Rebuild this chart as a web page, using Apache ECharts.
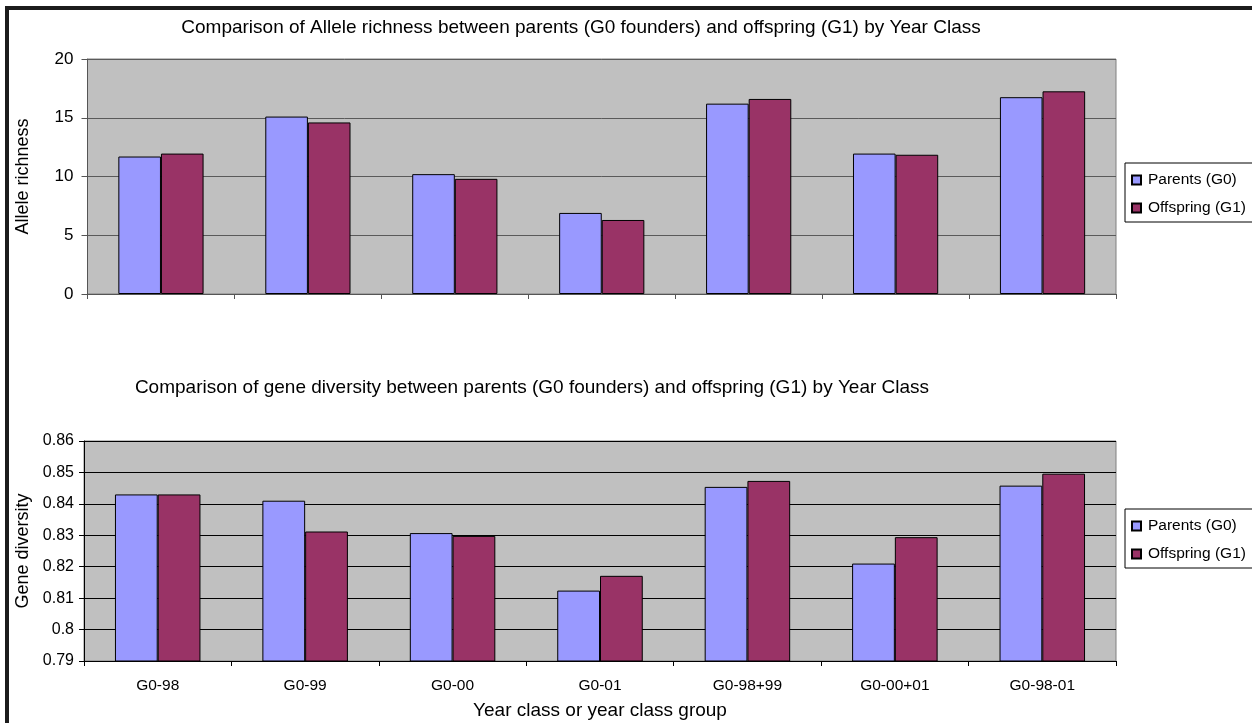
<!DOCTYPE html>
<html>
<head>
<meta charset="utf-8">
<script src="https://cdn.jsdelivr.net/npm/echarts@6/dist/echarts.min.js"></script>
<style>
  html, body { margin: 0; padding: 0; background: #fff; }
  #wrap { position: relative; width: 1252px; height: 723px; overflow: hidden; }
  #chart { position: absolute; left: 0; top: 0; width: 1252px; height: 723px; }
  #frame { position: absolute; left: 5px; top: 6px; right: -10px; bottom: -10px;
           border-left: 4px solid #1c1c1c; border-top: 4px solid #1c1c1c; pointer-events: none; }
</style>
</head>
<body>
<div id="wrap">
  <div id="chart"></div>
  <div id="frame"></div>
</div>
<script>
const categories = ['G0-98', 'G0-99', 'G0-00', 'G0-01', 'G0-98+99', 'G0-00+01', 'G0-98-01'];
const seriesNames = ['Parents (G0)', 'Offspring (G1)'];
const alleleParents = [11.7, 15.1, 10.2, 6.9, 16.2, 11.95, 16.75];
const alleleOffspring = [11.95, 14.6, 9.8, 6.3, 16.6, 11.85, 17.25];
const geneParents = [0.843, 0.841, 0.8307, 0.8124, 0.8454, 0.821, 0.8458];
const geneOffspring = [0.843, 0.8312, 0.8298, 0.8171, 0.8473, 0.8294, 0.8496];
const alleleTicks = { min: 0, max: 20, interval: 5 };
const geneTicks = { min: 0.79, max: 0.86, interval: 0.01 };

const FONT = "'Liberation Sans', Arial, sans-serif";
const colParents = '#9999ff';
const colOffspring = '#993366';

const chart = echarts.init(document.getElementById('chart'), null, { renderer: 'canvas' });

function legendFor(top) {
  return {
    orient: 'vertical',
    left: 1125, top: top,
    padding: [9, 40, 6, 6],
    itemWidth: 9, itemHeight: 9, itemGap: 12,
    backgroundColor: '#fff',
    borderColor: '#000', borderWidth: 1, borderRadius: 0,
    icon: 'rect',
    textStyle: { fontFamily: FONT, fontSize: 15.5, color: '#000', lineHeight: 16, padding: [0, 0, 0, 2] },
    data: seriesNames
  };
}

const barCommon = {
  type: 'bar',
  barGap: '0%',
  barCategoryGap: '42%',
  emphasis: { disabled: true },
  animation: false
};

const option = {
  animation: false,
  textStyle: { fontFamily: FONT },
  title: [
    { text: 'Comparison of Allele richness between parents (G0 founders) and offspring (G1) by Year Class',
      left: 581, top: 18, textAlign: 'center', padding: 0,
      textStyle: { fontFamily: FONT, fontSize: 19, fontWeight: 'normal', color: '#000' } },
    { text: 'Comparison of gene diversity between parents (G0 founders) and offspring (G1) by Year Class',
      left: 532, top: 378, textAlign: 'center', padding: 0,
      textStyle: { fontFamily: FONT, fontSize: 19, fontWeight: 'normal', color: '#000' } }
  ],
  legend: [legendFor(163), legendFor(509)],
  grid: [
    { left: 87.5, top: 59, right: 136, height: 235, show: true, backgroundColor: '#c0c0c0',
      borderColor: '#808080', borderWidth: 1, containLabel: false },
    { left: 84, top: 441, right: 136, height: 220, show: true, backgroundColor: '#c0c0c0',
      borderColor: '#808080', borderWidth: 1, containLabel: false }
  ],
  xAxis: [
    { type: 'category', gridIndex: 0, data: categories,
      axisLine: { lineStyle: { color: '#555', width: 1 } },
      axisTick: { show: true, length: 5, lineStyle: { color: '#555' } },
      axisLabel: { show: false } },
    { type: 'category', gridIndex: 1, data: categories,
      name: 'Year class or year class group', nameLocation: 'middle', nameGap: 40,
      nameTextStyle: { fontFamily: FONT, fontSize: 19, color: '#000' },
      axisLine: { lineStyle: { color: '#000', width: 1 } },
      axisTick: { show: true, length: 5, lineStyle: { color: '#000' } },
      axisLabel: { fontFamily: FONT, fontSize: 15.5, color: '#000', margin: 17 } }
  ],
  yAxis: [
    { type: 'value', gridIndex: 0, min: alleleTicks.min, max: alleleTicks.max, interval: alleleTicks.interval,
      name: 'Allele richness', nameLocation: 'middle', nameGap: 55, nameRotate: 90,
      nameTextStyle: { fontFamily: FONT, fontSize: 18, color: '#000' },
      axisLine: { show: true, lineStyle: { color: '#555', width: 1 } },
      axisTick: { show: true, length: 6, lineStyle: { color: '#555' } },
      axisLabel: { fontFamily: FONT, fontSize: 17, color: '#000', margin: 14 },
      splitLine: { show: true, lineStyle: { color: '#5a5a5a', width: 1 } } },
    { type: 'value', gridIndex: 1, min: geneTicks.min, max: geneTicks.max, interval: geneTicks.interval,
      name: 'Gene diversity', nameLocation: 'middle', nameGap: 52, nameRotate: 90,
      nameTextStyle: { fontFamily: FONT, fontSize: 18, color: '#000' },
      axisLine: { show: true, lineStyle: { color: '#000', width: 1 } },
      axisTick: { show: true, length: 5, lineStyle: { color: '#000' } },
      axisLabel: { fontFamily: FONT, fontSize: 16, color: '#000', margin: 10,
        formatter: v => String(+v.toFixed(2)) },
      splitLine: { show: true, lineStyle: { color: '#000', width: 1 } } }
  ],
  series: [
    Object.assign({}, barCommon, { name: seriesNames[0], xAxisIndex: 0, yAxisIndex: 0, data: alleleParents,
      itemStyle: { color: colParents, borderColor: '#000', borderWidth: 1 } }),
    Object.assign({}, barCommon, { name: seriesNames[1], xAxisIndex: 0, yAxisIndex: 0, data: alleleOffspring,
      itemStyle: { color: colOffspring, borderColor: '#000', borderWidth: 1 } }),
    Object.assign({}, barCommon, { name: seriesNames[0], xAxisIndex: 1, yAxisIndex: 1, data: geneParents,
      itemStyle: { color: colParents, borderColor: '#000', borderWidth: 1 } }),
    Object.assign({}, barCommon, { name: seriesNames[1], xAxisIndex: 1, yAxisIndex: 1, data: geneOffspring,
      itemStyle: { color: colOffspring, borderColor: '#000', borderWidth: 1 } })
  ]
};
chart.setOption(option);
</script>
</body>
</html>
